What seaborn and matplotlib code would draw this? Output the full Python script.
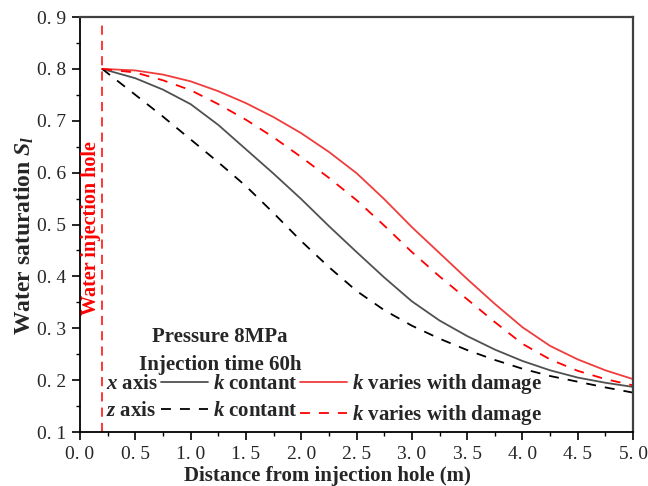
import matplotlib
matplotlib.use("Agg")
import matplotlib.pyplot as plt
import seaborn as sns
import numpy as np
from matplotlib.lines import Line2D
from matplotlib.ticker import MultipleLocator

# ---------------- data ----------------
distance = [0.2, 0.5, 0.75, 1.0, 1.25, 1.5, 1.75, 2.0, 2.25, 2.5, 2.75,
            3.0, 3.25, 3.5, 3.75, 4.0, 4.25, 4.5, 4.75, 5.0]
x_const = [0.800, 0.782, 0.760, 0.732, 0.692, 0.645, 0.598, 0.549, 0.497, 0.447, 0.398,
           0.352, 0.315, 0.285, 0.259, 0.237, 0.219, 0.205, 0.195, 0.187]
x_damage = [0.800, 0.797, 0.789, 0.776, 0.757, 0.734, 0.707, 0.676, 0.640, 0.599, 0.549,
            0.495, 0.445, 0.395, 0.347, 0.302, 0.266, 0.240, 0.219, 0.202]
z_const = [0.800, 0.750, 0.708, 0.664, 0.620, 0.574, 0.522, 0.468, 0.418, 0.372, 0.335,
           0.305, 0.280, 0.258, 0.239, 0.222, 0.208, 0.197, 0.186, 0.176]
z_damage = [0.800, 0.793, 0.778, 0.759, 0.732, 0.702, 0.668, 0.630, 0.590, 0.547, 0.498,
            0.447, 0.400, 0.356, 0.312, 0.270, 0.240, 0.218, 0.202, 0.190]
hole_x = 0.2

x_ticks = [0.0, 0.5, 1.0, 1.5, 2.0, 2.5, 3.0, 3.5, 4.0, 4.5, 5.0]
x_ticklabels = ["0. 0", "0. 5", "1. 0", "1. 5", "2. 0", "2. 5", "3. 0", "3. 5", "4. 0", "4. 5", "5. 0"]
y_ticks = [0.1, 0.2, 0.3, 0.4, 0.5, 0.6, 0.7, 0.8, 0.9]
y_ticklabels = ["0. 1", "0. 2", "0. 3", "0. 4", "0. 5", "0. 6", "0. 7", "0. 8", "0. 9"]

# ---------------- style ----------------
sns.set_style("ticks")
plt.rcParams["font.family"] = ["Liberation Serif", "DejaVu Serif"]
plt.rcParams["mathtext.fontset"] = "custom"
plt.rcParams["mathtext.rm"] = "Liberation Serif:bold"
plt.rcParams["mathtext.it"] = "Liberation Serif:italic:bold"
plt.rcParams["mathtext.bf"] = "Liberation Serif:bold"

fig = plt.figure(figsize=(6.48, 4.86), dpi=100)
ax = fig.add_axes([0.1235, 0.111, 0.8535, 0.854])

gray = "#505050"
red_s = "#f03c3c"
red_d = "#ff0000"
lw = 1.3
dash = (0, (5.5, 5))

sns.lineplot(x=distance, y=x_const, ax=ax, color=gray, lw=lw)
sns.lineplot(x=distance, y=x_damage, ax=ax, color=red_s, lw=lw)
sns.lineplot(x=distance, y=z_const, ax=ax, color="black", lw=lw, linestyle=dash)
sns.lineplot(x=distance, y=z_damage, ax=ax, color=red_d, lw=lw, linestyle=dash)

ax.axvline(hole_x, ymin=0, ymax=0.985, color=red_d, lw=1.1, linestyle=(0, (6, 4)))
ax.text(0.097, 0.493, "Water injection hole", rotation=90, color=red_d,
        fontsize=14.5, fontweight="bold", ha="center", va="center")

ax.set_xlim(0, 5)
ax.set_ylim(0.1, 0.9)
ax.set_xticks(x_ticks)
ax.set_xticklabels(x_ticklabels)
ax.set_yticks(y_ticks)
ax.set_yticklabels(y_ticklabels)
ax.xaxis.set_minor_locator(MultipleLocator(0.25))
ax.yaxis.set_minor_locator(MultipleLocator(0.05))
ax.tick_params(axis="both", which="major", direction="out", length=6, width=1.2,
               labelsize=14, color="black", top=False, right=False, pad=4)
ax.tick_params(axis="both", which="minor", direction="out", length=3, width=1.0,
               color="black", top=False, right=False)

for side in ["left", "bottom"]:
    ax.spines[side].set_color("black")
    ax.spines[side].set_linewidth(1.3)
for side in ["top", "right"]:
    ax.spines[side].set_color("#404040")
    ax.spines[side].set_linewidth(1.6)

ax.set_xlabel("Distance from injection hole (m)", fontsize=15, fontweight="bold")
ax.xaxis.set_label_coords(0.447, -0.082)
ax.set_ylabel(r"Water saturation $S_l$", fontsize=17, fontweight="bold")
ax.yaxis.set_label_coords(-0.08, 0.475)

# annotations
ax.text(0.253, 0.228, "Pressure 8MPa", transform=ax.transAxes, fontsize=15,
        fontweight="bold", ha="center", va="center")
ax.text(0.253, 0.162, "Injection time 60h", transform=ax.transAxes, fontsize=15,
        fontweight="bold", ha="center", va="center")

blank = Line2D([], [], color="none")
handles = [blank, blank,
           Line2D([], [], color=gray, lw=lw), Line2D([], [], color="black", lw=lw, ls=dash),
           Line2D([], [], color=red_s, lw=lw), Line2D([], [], color=red_d, lw=lw, ls=dash)]
labels = [r"$x$ axis", r"$z$ axis",
          r"$k$ contant", r"$k$ contant",
          r"$k$ varies with damage", r"$k$ varies with damage"]
leg = ax.legend(handles, labels, ncol=3, frameon=False, loc="lower left",
                bbox_to_anchor=(-0.047, 0.012), fontsize=15,
                handlelength=2.25, handletextpad=0.25, columnspacing=0.12,
                labelspacing=0.33, borderpad=0.0, borderaxespad=0)
for t in leg.get_texts():
    t.set_fontweight("bold")

fig.savefig("out.png", dpi=100)
